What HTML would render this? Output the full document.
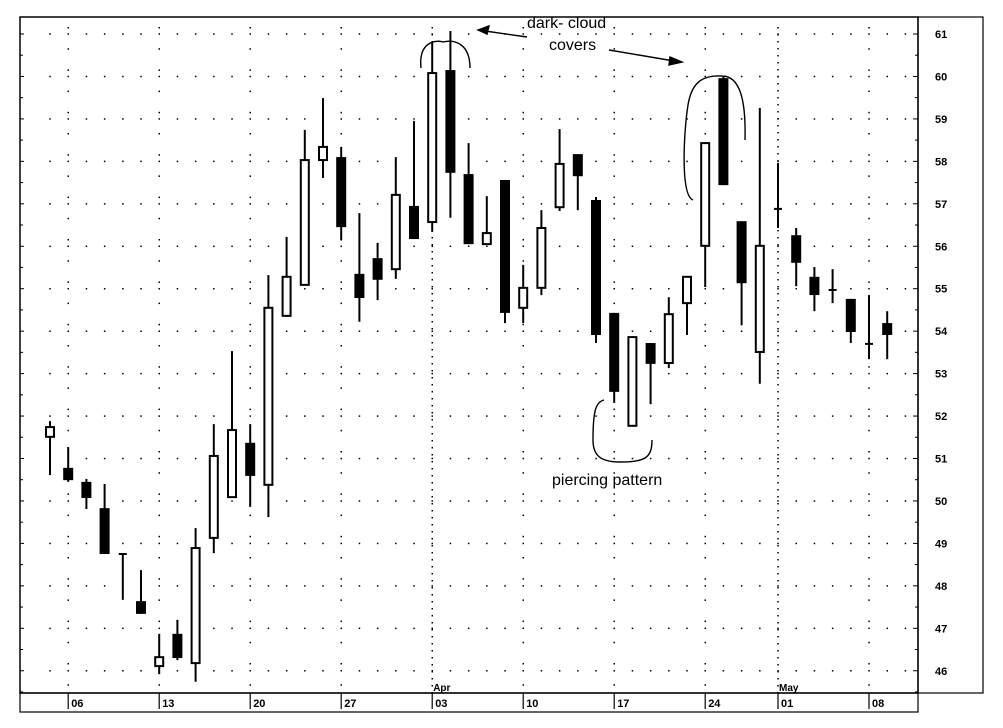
<!DOCTYPE html>
<html><head><meta charset="utf-8"><style>
html,body{margin:0;padding:0;background:#fff;}
svg{display:block;font-family:"Liberation Sans",Arial,sans-serif;}
</style></head><body>
<svg id="c" width="1003" height="728" viewBox="0 0 1003 728"></svg>
<script>
const opens  =[51.51,50.78,50.45,49.83,48.75,47.64,46.11,46.87,46.18,49.13,50.09,51.37,50.38,54.36,55.09,58.03,58.10,55.35,55.72,55.46,56.95,56.57,60.15,57.70,56.05,57.56,54.55,55.02,56.92,58.17,57.09,54.43,51.77,53.72,53.25,54.66,56.01,59.96,56.59,53.51,56.88,56.26,55.28,54.97,54.76,53.70,54.19];
const highs  =[51.88,51.27,50.52,50.40,48.75,48.37,46.87,47.20,49.36,51.81,53.53,51.81,55.32,56.22,58.74,59.49,58.34,56.78,56.08,58.10,58.95,60.81,61.07,58.43,57.18,57.56,55.56,56.85,58.76,58.17,57.16,54.43,53.86,53.72,54.80,55.28,58.43,59.99,56.59,59.26,57.96,56.43,55.51,55.46,54.76,54.85,54.47];
const lows   =[50.61,50.45,49.81,48.75,47.67,47.34,45.92,46.25,45.74,48.77,50.09,49.86,49.62,54.36,55.09,57.61,56.15,54.22,54.73,55.23,56.17,56.34,56.67,56.05,56.05,54.19,54.19,54.85,56.83,56.85,53.72,52.31,51.77,52.28,53.13,53.91,55.04,57.44,54.14,52.76,56.43,55.06,54.47,54.66,53.72,53.34,53.34];
const closes =[51.74,50.49,50.07,48.75,48.75,47.34,46.32,46.30,48.89,51.06,51.67,50.59,54.55,55.28,58.03,58.34,56.45,54.78,55.21,57.21,56.17,60.08,57.73,56.05,56.31,54.43,55.02,56.43,57.94,57.65,53.91,52.57,53.86,53.23,54.40,55.28,58.43,57.44,55.13,56.01,56.88,55.61,54.85,54.97,53.98,53.70,53.91];
const tickLabels=["06","13","20","27","03","10","17","24","01","08"];
const tickIndex=[1,6,11,16,21,26,31,36,40,45];
const monthLabels=["Apr","May"];
const monthIndex=[21,40];
const priceTicks=[46,47,48,49,50,51,52,53,54,55,56,57,58,59,60,61];

const NS="http://www.w3.org/2000/svg";
const svg=document.getElementById('c');
const L=20,R=918,T=17,B=693;
const x=i=>50+i*18.2;
const y=v=>34+(61-v)*42.45;
function el(t,a,p){const e=document.createElementNS(NS,t);for(const k in a)e.setAttribute(k,a[k]);(p||svg).appendChild(e);return e;}

// frame
let f=el('rect',{x:L,y:T,width:R-L,height:B-T,fill:'none',stroke:'#000','stroke-width':1.5});


let pf=el('rect',{x:R,y:T,width:983-R,height:B-T,fill:'none',stroke:'#000','stroke-width':1.2});


let bf=el('rect',{x:L,y:B,width:R-L,height:19,fill:'none',stroke:'#000','stroke-width':1.2});



// grid dots
const grid=el('g',{fill:'#000'});


priceTicks.forEach(p=>{
  for(let i=0;i<48;i++){const xx=x(i)-0.5*0+0;if(xx<R-4) el('rect',{x:xx-0.7,y:y(p)-0.7,width:1.5,height:1.5},grid);}
});
tickIndex.forEach((ti,k)=>{
  const dense=monthIndex.includes(ti);
  const step=dense?7:21.2;
  for(let yy=T+10;yy<B;yy+=step) el('rect',{x:x(ti)-0.7,y:yy,width:1.5,height:1.5},grid);
});

// price axis ticks & labels
priceTicks.forEach(p=>{
  el('line',{x1:R-5,x2:R,y1:y(p),y2:y(p),stroke:'#000','stroke-width':1});
  el('line',{x1:L,x2:L+4,y1:y(p),y2:y(p),stroke:'#000','stroke-width':1});
  el('line',{x1:R-3,x2:R,y1:y(p)+21.2,y2:y(p)+21.2,stroke:'#000','stroke-width':1});
  el('line',{x1:L,x2:L+3,y1:y(p)+21.2,y2:y(p)+21.2,stroke:'#000','stroke-width':1});
  const t=el('text',{x:935,y:y(p)+4,'font-size':11,'font-weight':'bold'});
  t.textContent=p;
  
  
});
// date labels
tickIndex.forEach((ti,k)=>{
  el('line',{x1:x(ti),x2:x(ti),y1:B,y2:B+16,stroke:'#000','stroke-width':1.2});
  const t=el('text',{x:x(ti)+3,y:B+14,'font-size':11,'font-weight':'bold'});
  t.textContent=tickLabels[k];
  
  
});
monthIndex.forEach((mi,k)=>{
  const t=el('text',{x:x(mi)+1,y:B-2,'font-size':10,'font-weight':'bold'});
  t.textContent=monthLabels[k];
  
  
});

// candles
opens.forEach((o,i)=>{
  const c=closes[i],h=highs[i],l=lows[i];
  const g=el('g',{});
  
  
  const cx=x(i);
  el('line',{x1:cx,x2:cx,y1:y(h),y2:y(l),stroke:'#000','stroke-width':2},g);
  const top=y(Math.max(o,c)),bot=y(Math.min(o,c));
  if(bot-top<2){
    el('line',{x1:cx-4,x2:cx+4,y1:top,y2:top,stroke:'#000','stroke-width':2},g);
  } else if(c>=o){
    el('rect',{x:cx-4,y:top,width:8,height:bot-top,fill:'#fff',stroke:'#000','stroke-width':2},g);
  } else {
    el('rect',{x:cx-5,y:top,width:10,height:bot-top,fill:'#000'},g);
  }
});

// annotations
const ann=el('g',{fill:'none',stroke:'#000','stroke-width':1.4});


el('path',{d:'M421,68 C418,40 438,40 443,42 C455,39 470,44 470,68'},ann);
el('path',{d:'M693,200 C680,195 684,130 688,105 C692,80 705,75 722,76 C740,76 746,100 745,140'},ann);
el('path',{d:'M527,37 L478,30'},ann);
el('path',{d:'M478,30 L489,26 L487,34 Z',fill:'#000'},ann);
el('path',{d:'M609,50 L680,62'},ann);
el('path',{d:'M682,62 L670,57 L669,65 Z',fill:'#000'},ann);
el('path',{d:'M604,400 C596,402 593,410 593,440 C593,455 600,462 620,462 C645,462 652,458 652,440'},ann);
const t1=el('text',{x:527,y:28,'font-size':16,fill:'#000'});t1.textContent='dark- cloud';

const t2=el('text',{x:549,y:50,'font-size':16,fill:'#000'});t2.textContent='covers';

const t3=el('text',{x:552,y:485,'font-size':16,fill:'#000'});t3.textContent='piercing pattern';

</script>
</body></html>
